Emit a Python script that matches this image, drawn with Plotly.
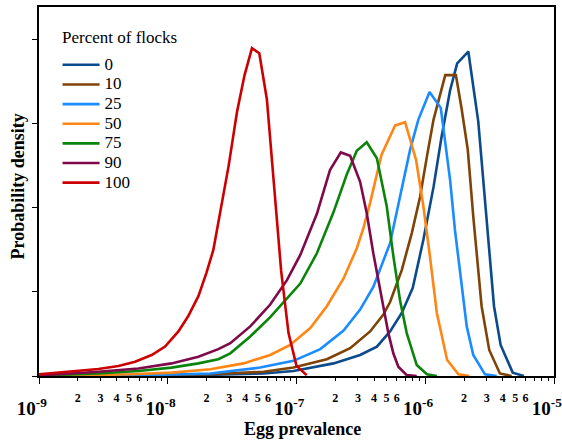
import plotly.graph_objects as go

# ---- data (egg prevalence, probability density) ----
labels = ["0", "10", "25", "50", "75", "90", "100"]
colors = ["#0b4a8b", "#7f4308", "#1a8cff", "#ff8614", "#0b840b", "#80094a", "#cc0000"]

nv_x = [1e-9, 5.13e-9, 1.69e-8, 5.55e-8, 9.48e-8, 1.94e-7, 3.12e-7, 4.21e-7, 5.33e-7, 6.57e-7, 8.00e-7, 9.67e-7,
        1.16e-6, 1.34e-6, 1.56e-6, 1.77e-6, 2.16e-6, 2.58e-6, 2.82e-6, 3.09e-6, 3.42e-6, 3.85e-6, 4.78e-6, 5.84e-6]
nv_y = [0, 0.005, 0.01, 0.03, 0.06, 0.15, 0.25, 0.35, 0.53, 0.75, 1.05, 1.62,
        2.25, 2.85, 3.40, 3.72, 3.86, 3.03, 2.33, 1.54, 0.83, 0.37, 0.04, 0.0]

br_x = [1e-9, 5.13e-9, 2.14e-8, 5.55e-8, 9.48e-8, 1.72e-7, 2.61e-7, 3.73e-7, 4.73e-7, 5.33e-7, 6.57e-7, 7.86e-7,
        9.11e-7, 1.03e-6, 1.16e-6, 1.43e-6, 1.73e-6, 1.92e-6, 2.14e-6, 2.36e-6, 2.58e-6, 2.74e-6, 3.14e-6,
        3.80e-6, 4.69e-6]
br_y = [0, 0.01, 0.02, 0.05, 0.10, 0.20, 0.33, 0.53, 0.73, 0.88, 1.26, 1.70,
        2.13, 2.61, 3.05, 3.58, 3.58, 3.17, 2.69, 1.90, 1.22, 0.83, 0.31,
        0.03, 0.0]

bl_x = [1e-9, 5.13e-9, 2.14e-8, 5.22e-8, 9.48e-8, 1.53e-7, 2.32e-7, 3.12e-7, 3.95e-7, 4.73e-7, 5.33e-7, 5.83e-7,
        6.76e-7, 7.62e-7, 8.84e-7, 1.08e-6, 1.32e-6, 1.56e-6, 1.70e-6, 1.92e-6, 2.10e-6, 2.36e-6, 2.91e-6, 3.59e-6]
bl_y = [0.0, 0.005, 0.03, 0.10, 0.18, 0.32, 0.54, 0.79, 1.06, 1.36, 1.58, 1.86,
        2.33, 2.69, 3.05, 3.38, 3.19, 2.33, 1.74, 1.06, 0.59, 0.25, 0.02, 0.0]

or_x = [1e-9, 5.13e-9, 1.07e-8, 2.14e-8, 3.88e-8, 6.25e-8, 8.93e-8, 1.28e-7, 1.72e-7, 2.32e-7, 2.94e-7, 3.31e-7,
        3.73e-7, 4.57e-7, 5.83e-7, 6.97e-7, 8.49e-7, 9.67e-7, 1.08e-6, 1.23e-6, 1.48e-6, 1.81e-6, 2.20e-6]
or_y = [0.0, 0.02, 0.04, 0.08, 0.15, 0.25, 0.37, 0.57, 0.83, 1.16, 1.52, 1.76,
        2.06, 2.63, 2.98, 3.02, 2.57, 2.02, 1.46, 0.75, 0.19, 0.02, 0.0]

gr_x = [1e-9, 2.89e-9, 5.91e-9, 1.07e-8, 1.73e-8, 2.47e-8, 3.06e-8, 4.37e-8, 6.25e-8, 8.43e-8, 1.07e-7, 1.44e-7,
        1.94e-7, 2.46e-7, 2.94e-7, 3.51e-7, 4.21e-7, 5.02e-7, 5.66e-7, 6.37e-7, 7.18e-7, 8.59e-7, 1.03e-6, 1.23e-6]
gr_y = [0.005, 0.03, 0.06, 0.10, 0.15, 0.20, 0.27, 0.47, 0.70, 0.93, 1.10, 1.46,
        1.95, 2.40, 2.68, 2.78, 2.59, 2.02, 1.42, 0.90, 0.51, 0.13, 0.02, 0.0]

pu_x = [1e-9, 1.42e-9, 2.89e-9, 5.91e-9, 1.07e-8, 1.73e-8, 2.47e-8, 3.06e-8, 4.37e-8, 6.25e-8, 8.43e-8, 1.07e-7,
        1.44e-7, 1.82e-7, 2.21e-7, 2.61e-7, 3.12e-7, 3.51e-7, 3.95e-7, 4.32e-7, 4.73e-7, 5.17e-7, 5.65e-7,
        6.18e-7, 7.18e-7, 8.59e-7]
pu_y = [0.01, 0.02, 0.05, 0.09, 0.15, 0.23, 0.32, 0.39, 0.59, 0.85, 1.14, 1.44,
        1.93, 2.45, 2.66, 2.62, 2.31, 1.94, 1.46, 1.14, 0.79, 0.51, 0.27,
        0.11, 0.01, 0.0]

rd_x = [1e-9, 1.42e-9, 2.02e-9, 2.89e-9, 4.14e-9, 5.57e-9, 7.50e-9, 9.53e-9, 1.21e-8, 1.44e-8, 1.73e-8, 2.00e-8,
        2.26e-8, 2.48e-8, 2.97e-8, 3.45e-8, 3.95e-8, 4.51e-8, 5.14e-8, 5.89e-8, 6.75e-8, 7.60e-8, 8.67e-8,
        1.00e-7, 1.20e-7]
rd_y = [0.02, 0.04, 0.063, 0.083, 0.12, 0.17, 0.25, 0.35, 0.53, 0.71, 0.95, 1.23,
        1.50, 1.83, 2.50, 3.14, 3.58, 3.90, 3.84, 3.29, 2.21, 1.25, 0.51,
        0.12, 0.01]

series_x = [nv_x, br_x, bl_x, or_x, gr_x, pu_x, rd_x]
series_y = [nv_y, br_y, bl_y, or_y, gr_y, pu_y, rd_y]

legend_title = "Percent of flocks"
decades = [-9, -8, -7, -6, -5]
minor_mult = [2, 3, 4, 5, 6, 7, 8, 9]
minor_labels = ["2", "3", "4", "5", "6", "", "", ""]

FONT = "Liberation Serif"
W, H = 562, 441
L, R, T, B = 38.5, 8, 7, 65

fig = go.Figure()
for lab, col, xs, ys in zip(labels, colors, series_x, series_y):
    fig.add_trace(go.Scatter(x=xs, y=ys, mode="lines",
                             name='<span style="font-size:17px">%s</span>' % lab,
                             line=dict(color=col, width=2.6)))
# empty helper trace so the overlaid minor-label axis is drawn
fig.add_trace(go.Scatter(x=[], y=[], xaxis="x2", yaxis="y", showlegend=False, hoverinfo="skip"))

major_vals = [10.0 ** d for d in decades]
major_text = ["10<sup>%d</sup>%s" % (d, "\u00a0" * 3) for d in decades]
minor_vals, minor_text = [], []
for d in decades[:-1]:
    for m, t in zip(minor_mult, minor_labels):
        minor_vals.append(m * 10.0 ** d)
        minor_text.append(t)

xrange = [-9, -5]

fig.update_layout(
    width=W, height=H,
    margin=dict(l=L, r=R, t=T, b=B, pad=0),
    paper_bgcolor="white", plot_bgcolor="white",
    font=dict(family=FONT, color="black"),
    showlegend=True,
    legend=dict(
        x=0.036, y=0.8835, xanchor="left", yanchor="top",
        bgcolor="rgba(0,0,0,0)",
        font=dict(family=FONT, size=12.8, color="black"),
        itemwidth=37, tracegroupgap=0,
    ),
    xaxis=dict(
        type="log", range=xrange, automargin=False,
        tickmode="array", tickvals=major_vals, ticktext=major_text, tickangle=0,
        ticklabeloverflow="allow",
        ticks="outside", ticklen=6, tickwidth=1, tickcolor="black",
        ticklabelstandoff=8,
        tickfont=dict(family=FONT, size=19, color="black", weight="bold"),
        showline=True, linecolor="black", linewidth=2, mirror=True,
        showgrid=False, zeroline=False,
    ),
    xaxis2=dict(
        type="log", range=xrange, automargin=False, overlaying="x", anchor="y", side="bottom",
        tickmode="array", tickvals=minor_vals, ticktext=minor_text, tickangle=0,
        ticklabeloverflow="allow",
        ticks="outside", ticklen=3.5, tickwidth=1, tickcolor="black",
        ticklabelstandoff=7,
        tickfont=dict(family=FONT, size=12, color="black", weight="bold"),
        showline=False, showgrid=False, zeroline=False,
    ),
    yaxis=dict(
        range=[0, 4.39], tickmode="array", tickvals=[0, 1, 2, 3, 4], automargin=False,
        showticklabels=False,
        ticks="outside", ticklen=5, tickwidth=1, tickcolor="black",
        showline=True, linecolor="black", linewidth=2, mirror=True,
        showgrid=False, zeroline=False,
    ),
)

def px_to_paper_x(px):
    return (px - L) / (W - L - R)

def px_to_paper_y(py):
    return (H - B - py) / (H - T - B)

fig.add_annotation(text=legend_title, xref="paper", yref="paper",
                   x=px_to_paper_x(60), y=px_to_paper_y(37), xanchor="left", yanchor="middle",
                   showarrow=False, font=dict(family=FONT, size=17, color="black"))
fig.add_annotation(text="<b>Egg prevalence</b>", xref="paper", yref="paper",
                   x=px_to_paper_x(302), y=px_to_paper_y(429), xanchor="center", yanchor="middle",
                   showarrow=False, font=dict(family=FONT, size=18, color="black"))
fig.add_annotation(text="<b>Probability density</b>", xref="paper", yref="paper",
                   x=px_to_paper_x(17), y=px_to_paper_y(187), xanchor="center", yanchor="middle",
                   textangle=-90, showarrow=False, font=dict(family=FONT, size=18, color="black"))

fig.write_html("out.html")
